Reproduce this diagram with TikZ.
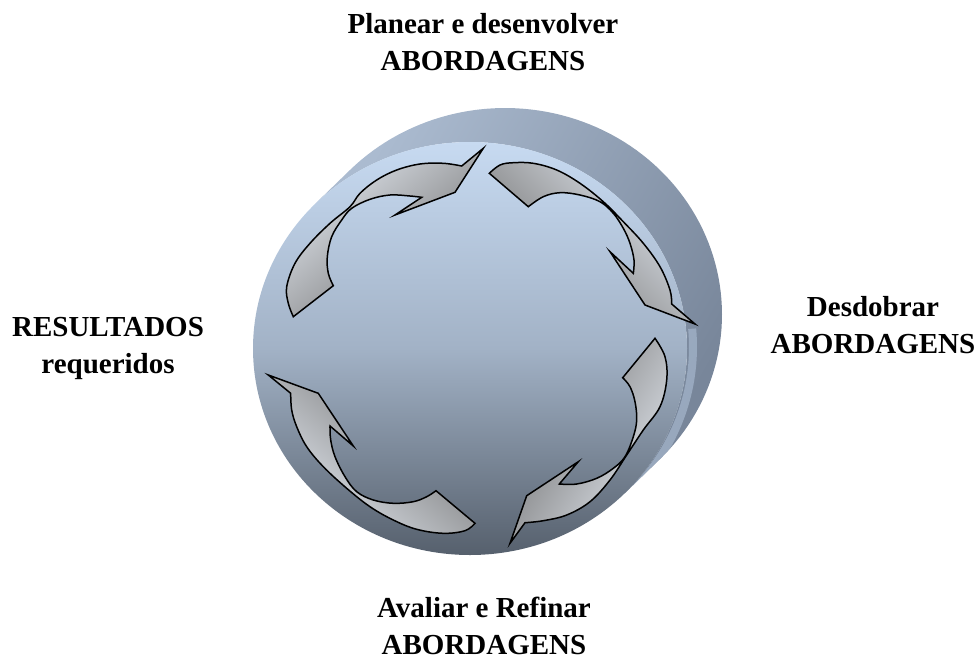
\documentclass[tikz,border=0pt]{standalone}
\usepackage{fontspec}
\setmainfont{Liberation Serif}
\definecolor{arrdark}{HTML}{6C6C6C}
\definecolor{arrlight}{HTML}{E2E7EE}
\definecolor{facetop}{HTML}{C7DAF1}
\definecolor{facemid}{HTML}{A2B2C6}
\definecolor{facebot}{HTML}{56606D}
\definecolor{sidelight}{HTML}{ABBBD0}
\definecolor{sidedark}{HTML}{78869A}
\definecolor{sidestripe}{HTML}{A3B4CA}
\begin{document}
\begin{tikzpicture}[x=1pt,y=-1pt,
  arr/.style={draw=black,line width=1.5pt,top color=arrlight,bottom color=arrdark},
  lbl/.style={font=\fontsize{29}{37}\selectfont\bfseries,align=center,anchor=north,inner sep=0pt}]
\useasboundingbox (0,0) rectangle (980,662);
% side of the disc
\shade[top color=sidelight,bottom color=sidedark,shading angle=60]
  plot[domain=224.4:404.4,samples=90] ({505+217*cos(\x)},{314.5+206.5*sin(\x)})
  -- plot[domain=404.4:224.4,samples=90] ({470+217*cos(\x)},{348.5+206.5*sin(\x)}) -- cycle;
% light band along the front rim, kept inside the side
\begin{scope}
  \clip plot[domain=224.4:404.4,samples=90] ({505+217*cos(\x)},{314.5+206.5*sin(\x)})
    -- plot[domain=404.4:224.4,samples=90] ({470+217*cos(\x)},{348.5+206.5*sin(\x)}) -- cycle;
  \draw[sidestripe,line width=8pt,opacity=0.75]
    plot[domain=-5:50,samples=40] ({472+221*cos(\x)},{347+210*sin(\x)});
\end{scope}
% front face
\shade[top color=facetop,bottom color=facebot,middle color=facemid]
  (470,348.5) ellipse [x radius=217,y radius=206.5];
% arrow 1 (top-left)
\shade[arr,shading angle=40]
  (293.3,316.7) -- (333.3,285.7)
  -- plot[smooth,tension=0.6] coordinates {(333.3,285.7) (328.3,273.3) (327.3,256.7) (331.7,236.7) (341.7,220) (351.7,208.3) (370,199.3) (390,195) (410,196) (421.7,197.3)}
  -- (395,215) -- (455,192.3) -- (483.3,148.3) -- (461.7,166)
  -- plot[smooth,tension=0.6] coordinates {(461.7,166) (443.3,163.3) (420,164) (396.7,170) (376.7,180) (360,193.3) (350,206.7) (330,223.3) (310,243.3) (295,263.3) (286.7,286.7) (288.3,303.3) (293.3,316.7)}
  -- cycle;
% arrow 2 (top-right)
\shade[arr,shading angle=-45]
  (489.3,173.3)
  -- plot[smooth,tension=0.6] coordinates {(489.3,173.3) (500,165) (513.3,162.7) (533.3,163.3) (556.7,170) (580,183.3) (603.3,201.7) (623.3,221.7) (643.3,243.3) (660,266.7) (670,290) (671.7,304)}
  -- (695,324) -- (645,305) -- (610,251.7) -- (633.3,273.3)
  -- plot[smooth,tension=0.6] coordinates {(633.3,273.3) (634,260) (630,243.3) (623.3,228.3) (613.3,213.3) (600,201.7) (580,195) (560,192.7) (543.3,196.7) (528.3,206.7)}
  -- cycle;
% arrow 3 (bottom-right)
\shade[arr,shading angle=-121]
  (655,338.3) -- (622.7,377.7)
  -- plot[smooth,tension=0.6] coordinates {(622.7,377.7) (630,386.7) (635,401.7) (636.7,420) (633.3,436.7) (625,456.7) (613.3,468.3) (596.7,478.3) (576.7,484) (559.3,484)}
  -- (578.3,461.7) -- (526.7,495.7) -- (510,543.3) -- (525,522.7)
  -- plot[smooth,tension=0.6] coordinates {(525,522.7) (543.3,520.7) (566.7,515) (590,501.7) (610,480) (626.7,455) (643.3,430) (660,406.7) (666.7,380) (665,356.7) (655,338.3)}
  -- cycle;
% arrow 4 (bottom-left)
\shade[arr,shading angle=138]
  (475,523.3) -- (436,490.7)
  -- plot[smooth,tension=0.6] coordinates {(436,490.7) (426.7,496.7) (413.3,501.7) (393.3,503.3) (373.3,500) (356.7,491.7) (345,476.7) (335,456.7) (330.7,440) (330,426)}
  -- (353.3,446) -- (318.3,393.3) -- (268.3,375) -- (290.7,393.3)
  -- plot[smooth,tension=0.6] coordinates {(290.7,393.3) (291.7,410) (296.7,426.7) (306.7,446.7) (323.3,466.7) (346.7,488.3) (370,506.7) (393.3,520) (416.7,529.3) (443.3,533.3) (465,530.7) (475,523.3)}
  -- cycle;
% labels
\node[lbl] (top) at (483,13.4) {Planear e desenvolver\\ABORDAGENS};
\node[lbl] (right) at (873,296.4) {Desdobrar\\ABORDAGENS};
\node[lbl] (bottom) at (484,597) {Avaliar e Refinar\\ABORDAGENS};
\node[lbl] (left) at (108,317.5) {RESULTADOS\\requeridos};
\end{tikzpicture}
\end{document}
